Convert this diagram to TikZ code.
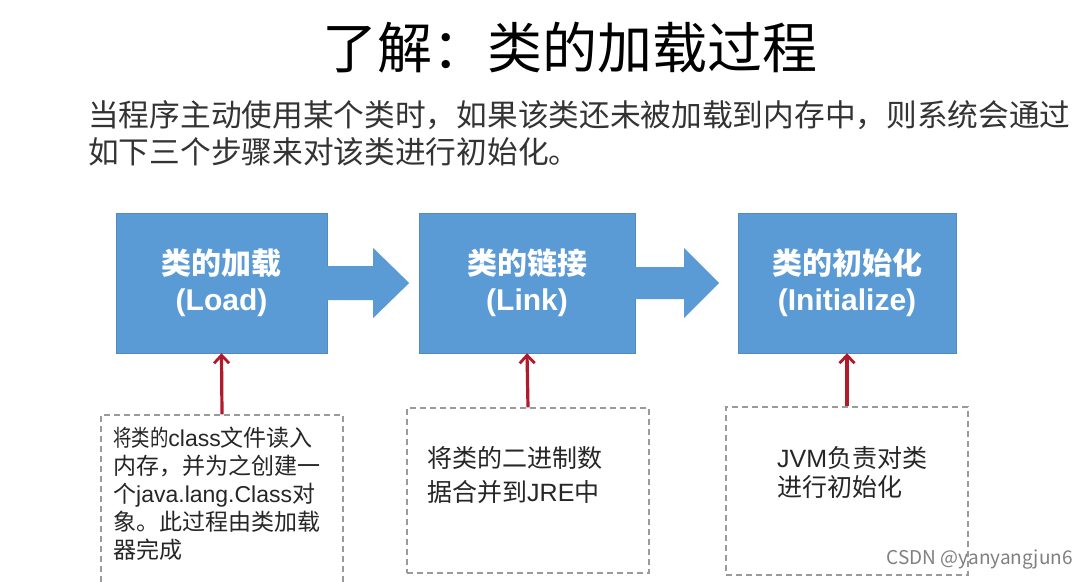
\documentclass[tikz,border=0pt]{standalone}
\usepackage{fontspec}
\setmainfont{Noto Sans CJK SC}
\newfontfamily\latin{Liberation Sans}
\usetikzlibrary{positioning,arrows.meta,calc}
\definecolor{boxblue}{HTML}{5B9BD5}
\definecolor{pullred}{HTML}{B01A2A}
\definecolor{notegray}{HTML}{9A9A9A}

\begin{document}
\begin{tikzpicture}[
        x=1pt, y=-1pt,
        title/.style={
            font=\fontsize{55}{60}\selectfont,
            inner sep=0pt
        },
        intro/.style={
            font=\fontsize{30.7}{37}\selectfont,
            text=black!80,
            align=left,
            inner sep=0pt
        },
        stage/.style={
            fill=boxblue,
            draw=boxblue!90!black,
            line width=0.4pt,
            minimum height=140pt,
            align=center,
            text=white,
            font=\fontsize{30}{36}\selectfont\bfseries,
            inner sep=0pt
        },
        flow/.style={
            fill=boxblue
        },
        note/.style={
            draw=notegray,
            line width=1.3pt,
            dash pattern=on 6pt off 4pt,
            minimum width=242pt,
            inner sep=0pt
        },
        notetext/.style={
            anchor=north west,
            align=left,
            text=black!85,
            inner sep=0pt
        },
        pull/.style={
            -{Straight Barb[length=8pt,width=15pt,line width=2.8pt]},
            line width=3.2pt,
            draw=pullred
        },
        signmark/.style={
            font=\fontsize{19}{22}\selectfont,
            text=black!50,
            inner sep=0pt
        }
    ]

    \clip (0,0) rectangle (1089,581);
    \fill[white] (0,0) rectangle (1089,581);

    % =========================
    % Heading
    % =========================
    \node[title] (head) at (570,48) {了解：类的加载过程};

    \node[intro, anchor=north west] (lead) at (88,100)
        {当程序主动使用某个类时，如果该类还未被加载到内存中，则系统会通过\\
         如下三个步骤来对该类进行初始化。};

    % =========================
    % Stages
    % =========================
    \node[stage, minimum width=211pt] (load) at (221.5,283) {类的加载\\{\latin (Load)}};
    \node[stage, minimum width=216pt] (link) at (527,283) {类的链接\\{\latin (Link)}};
    \node[stage, minimum width=218pt] (init) at (847,283) {类的初始化\\{\latin (Initialize)}};

    \fill[flow] ($(load.east)+(0,-17)$) -- ++(46,0) -- ++(0,-18) -- ++(36,35)
        -- ++(-36,35) -- ++(0,-18) -- ++(-46,0) -- cycle;
    \fill[flow] ($(link.east)+(0,-16)$) -- ++(49,0) -- ++(0,-19) -- ++(35,35)
        -- ++(-35,35) -- ++(0,-19) -- ++(-49,0) -- cycle;

    % =========================
    % Notes
    % =========================
    \node[note, minimum height=185pt] (loadnote) at (222,507.5) {};
    \node[note, minimum height=165pt] (linknote) at (528,490.5) {};
    \node[note, minimum height=168pt] (initnote) at (847,491) {};

    \node[notetext, font=\fontsize{23}{28}\selectfont] (loadtext) at (113,427)
        {\scalebox{0.8}[1]{将类的}{\latin class}文件读入\\内存，并为之创建一\\个{\latin java.lang.Class}对\\象。此过程由类加载\\器完成};
    \node[notetext, font=\fontsize{25}{34}\selectfont] (linktext) at (427,446)
        {将类的二进制数\\据合并到{\latin JRE}中};
    \node[notetext, font=\fontsize{25}{29.5}\selectfont] (inittext) at (777,446)
        {{\latin JVM}负责对类\\进行初始化};

    \draw[pull] (loadnote.north) -- (load.south);
    \draw[pull] (linknote.north) -- (link.south);
    \draw[pull] (initnote.north) -- (init.south);

    \node[signmark, anchor=east] (sign) at (1073,560) {CSDN @yanyangjun6};

\end{tikzpicture}
\end{document}
